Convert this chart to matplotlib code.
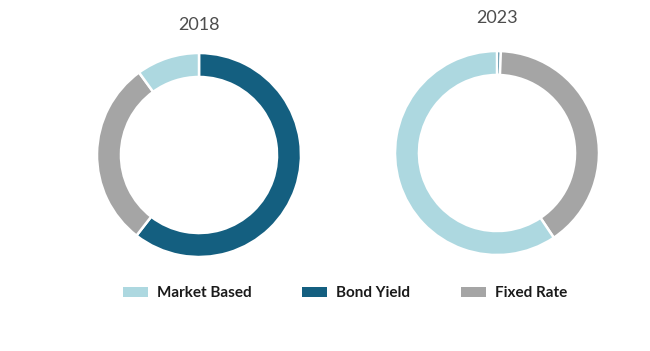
import matplotlib.pyplot as plt
from matplotlib.patches import Patch

plt.rcParams['font.family'] = ['Lato', 'DejaVu Sans']

# segment order clockwise from 12 o'clock
segments = ['Bond Yield', 'Fixed Rate', 'Market Based']
values_2018 = [60.5, 29.5, 10]
values_2023 = [0.6, 40, 59.4]
legend_order = ['Market Based', 'Bond Yield', 'Fixed Rate']

colors = {
    'Market Based': '#add8e0',
    'Bond Yield': '#145f80',
    'Fixed Rate': '#a5a5a5',
}

fig = plt.figure(figsize=(6.5, 3.51), dpi=100, facecolor='white')


def donut(cx, cy, r, values, title, title_y):
    w = 2 * r / 650
    h = 2 * r / 351
    ax = fig.add_axes([cx / 650 - w / 2, 1 - cy / 351 - h / 2, w, h])
    ax.pie(values, colors=[colors[s] for s in segments], startangle=90,
           counterclock=False, radius=1,
           wedgeprops=dict(width=0.235, edgecolor='white', linewidth=1.8))
    ax.set_xlim(-1, 1)
    ax.set_ylim(-1, 1)
    ax.set_aspect('equal')
    ax.axis('off')
    fig.text(cx / 650, 1 - title_y / 351, title, ha='center', va='center',
             fontsize=13, color='#4d4d4d')


donut(199, 155, 102, values_2018, '2018', 25)
donut(497, 153, 102, values_2023, '2023', 18)

handles = [Patch(facecolor=colors[s], edgecolor='none', label=s) for s in legend_order]
leg = fig.legend(handles=handles, loc='center', ncol=3,
                 bbox_to_anchor=(345 / 650, 1 - 293 / 351),
                 frameon=False, fontsize=11, handlelength=1.65, handleheight=0.65,
                 handletextpad=0.6, columnspacing=3.3)
for t in leg.get_texts():
    t.set_color('#1a1a1a')
    t.set_fontweight('bold')

fig.savefig('out.png', dpi=100, facecolor='white')
